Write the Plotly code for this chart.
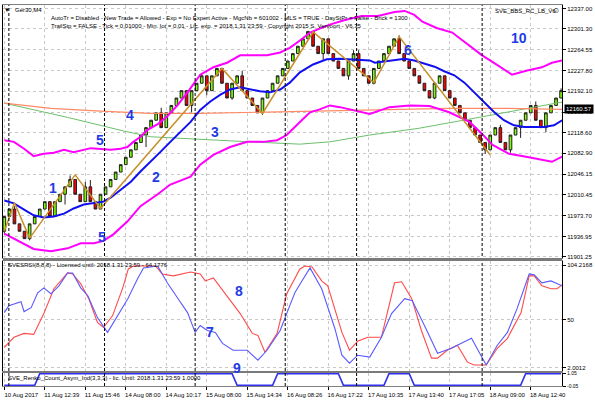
import plotly.graph_objects as go
from plotly.subplots import make_subplots

FONT = "Liberation Sans, Arial, sans-serif"
CANDLE_UP = "#7CFC00"
CANDLE_DOWN = "#FF0000"
CANDLE_EDGE = "#202020"
MA_BLUE = "#1010F0"
BAND_MAGENTA = "#FF00FF"
ZIGZAG_GOLD = "#C8902C"
CORAL = "#FF8A65"
SOFT_GREEN = "#6CBF6C"
RSI_BLUE = "#5A5AFF"
RSI_RED = "#FF4A4A"
LABEL_BLUE = "#1F3BE6"
GRID_GREY = "#C8C8C8"
FRAME_GREY = "#808080"

# renko bars (price)
opens = [11946, 11972, 11985, 11959, 11946, 11933, 11959, 11972, 11985, 11998,
         11972, 11998, 12011, 12024, 12037, 12011, 11998, 12024, 11998, 11985,
         12011, 12024, 12037, 12050, 12063, 12076, 12089, 12102, 12115, 12128,
         12141, 12154, 12128, 12154, 12167, 12180, 12193, 12167, 12193, 12206,
         12219, 12193, 12219, 12232, 12206, 12180, 12206, 12219, 12193, 12180,
         12167, 12154, 12180, 12193, 12206, 12219, 12232, 12245, 12258, 12271,
         12284, 12297, 12271, 12258, 12284, 12258, 12245, 12232, 12219, 12245,
         12258, 12232, 12219, 12206, 12232, 12245, 12258, 12271, 12284, 12258,
         12245, 12232, 12219, 12206, 12193, 12180, 12206, 12219, 12193, 12180,
         12167, 12154, 12141, 12128, 12115, 12102, 12089, 12115, 12128, 12102,
         12089, 12115, 12128, 12141, 12154, 12167, 12141, 12128, 12154, 12167,
         12180]
closes = [11972, 11985, 11959, 11946, 11933, 11959, 11972, 11985, 11998, 11972,
          11998, 12011, 12024, 12037, 12011, 11998, 12024, 11998, 11985, 12011,
          12024, 12037, 12050, 12063, 12076, 12089, 12102, 12115, 12128, 12141,
          12154, 12128, 12154, 12167, 12180, 12193, 12167, 12193, 12206, 12219,
          12193, 12219, 12232, 12206, 12180, 12206, 12219, 12193, 12180, 12167,
          12154, 12180, 12193, 12206, 12219, 12232, 12245, 12258, 12271, 12284,
          12297, 12271, 12258, 12284, 12258, 12245, 12232, 12219, 12245, 12258,
          12232, 12219, 12206, 12232, 12245, 12258, 12271, 12284, 12258, 12245,
          12232, 12219, 12206, 12193, 12180, 12206, 12219, 12193, 12180, 12167,
          12154, 12141, 12128, 12115, 12102, 12089, 12115, 12128, 12102, 12089,
          12115, 12128, 12141, 12154, 12167, 12141, 12128, 12154, 12167, 12180,
          12193]
highs = [11972, 11985, 11990, 11959, 11946, 11959, 11972, 11985, 11998, 11998,
         11998, 12011, 12024, 12044, 12037, 12011, 12033, 12036, 11998, 12011,
         12024, 12037, 12050, 12063, 12076, 12089, 12102, 12115, 12128, 12141,
         12154, 12163, 12154, 12167, 12180, 12193, 12193, 12193, 12206, 12223,
         12219, 12219, 12232, 12232, 12206, 12206, 12219, 12228, 12193, 12180,
         12167, 12180, 12193, 12206, 12219, 12232, 12245, 12258, 12271, 12284,
         12297, 12297, 12271, 12284, 12284, 12258, 12245, 12232, 12245, 12264,
         12264, 12232, 12219, 12232, 12245, 12258, 12271, 12284, 12290, 12258,
         12245, 12232, 12219, 12206, 12193, 12206, 12219, 12219, 12193, 12180,
         12167, 12154, 12141, 12128, 12115, 12102, 12115, 12128, 12133, 12102,
         12115, 12128, 12141, 12154, 12167, 12174, 12141, 12154, 12167, 12180,
         12197]
lows = [11942, 11972, 11959, 11946, 11933, 11930, 11959, 11972, 11985, 11972,
        11972, 11998, 11993, 12024, 12011, 11998, 11998, 11998, 11985, 11985,
        12011, 12024, 12037, 12050, 12063, 12076, 12089, 12102, 12094, 12128,
        12141, 12128, 12128, 12154, 12167, 12180, 12167, 12155, 12193, 12206,
        12185, 12193, 12219, 12206, 12180, 12177, 12206, 12193, 12180, 12167,
        12154, 12150, 12180, 12193, 12206, 12219, 12232, 12245, 12258, 12271,
        12284, 12271, 12258, 12247, 12258, 12245, 12232, 12219, 12212, 12245,
        12232, 12219, 12206, 12204, 12232, 12245, 12258, 12271, 12258, 12245,
        12232, 12219, 12206, 12193, 12180, 12178, 12206, 12193, 12180, 12167,
        12154, 12141, 12128, 12115, 12102, 12082, 12089, 12115, 12102, 12089,
        12084, 12115, 12110, 12141, 12154, 12141, 12128, 12120, 12154, 12167,
        12180]
bars = list(range(len(opens)))

# blue moving average
ma_x = [0, 1.9, 3.9, 5.8, 7.8, 9.8, 11.8, 13.7, 15.7, 17.7, 19.6, 21.0, 23.0,
        25.0, 26.9, 28.9, 30.8, 32.8, 34.8, 36.8, 38.7, 40.7, 42.7, 44.6, 46.6,
        48.6, 50.5, 52.5, 54.5, 56.4, 58.4, 61.0, 63.7, 66.3, 68.2, 70.2, 72.2,
        73.2, 75.1, 77.1, 79.1, 81.0, 83.0, 85.0, 86.9, 88.9, 90.9, 92.8, 94.8,
        96.8, 98.7, 100.7, 102.7, 104.7, 106.6, 108.6, 110.2]
ma_vals = [12000, 11995, 11984, 11974, 11970, 11972, 11977, 11986, 11993, 11995,
           11998, 12005, 12019, 12033, 12051, 12068, 12085, 12103, 12120, 12138,
           12159, 12174, 12186, 12195, 12199, 12195, 12192, 12190, 12195, 12207,
           12225, 12239, 12248, 12249, 12248, 12248, 12246, 12242, 12244, 12247,
           12249, 12246, 12241, 12235, 12227, 12220, 12207, 12190, 12173, 12155,
           12141, 12132, 12129, 12129, 12129, 12132, 12141]

# magenta bands
ub_x = [0, 1.9, 3.9, 5.8, 7.8, 9.8, 11.8, 13.7, 17.1, 19.0, 21.0, 23.0, 24.3,
        25.5, 26.9, 28.3, 30.3, 32.2, 34.2, 36.2, 38.7, 41.3, 44.0, 46.6, 49.1,
        51.9, 54.5, 56.4, 58.4, 60.4, 62.3, 64.3, 67.3, 70.6, 73.8, 77.1, 79.1,
        81.0, 82.6, 85.4, 88.5, 91.9, 94.4, 97.2, 100.3, 103.1, 106.2, 108.2, 110.2]
ub_vals = [12106, 12103, 12091, 12078, 12082, 12084, 12089, 12085, 12092, 12091,
           12089, 12091, 12094, 12103, 12112, 12124, 12134, 12148, 12167, 12190,
           12221, 12234, 12242, 12255, 12255, 12255, 12260, 12268, 12281, 12295,
           12302, 12309, 12317, 12324, 12324, 12331, 12333, 12326, 12314, 12303,
           12295, 12272, 12255, 12239, 12221, 12228, 12234, 12242, 12246]
lb_x = [0, 2.7, 5.8, 9.2, 12.5, 15.1, 17.7, 19.6, 21.6, 24.3, 26.9, 30.3, 32.8,
        36.8, 38.7, 41.3, 44.6, 48.0, 51.1, 53.9, 55.8, 58.4, 60.4, 62.3, 64.3,
        66.3, 68.2, 70.2, 72.2, 76.1, 80.1, 84.0, 87.9, 91.9, 94.4, 96.4, 99.7,
        103.1, 106.2, 108.2, 110.2]
lb_vals = [11942, 11929, 11915, 11911, 11916, 11925, 11925, 11929, 11941, 11963,
           11990, 12011, 12028, 12042, 12063, 12080, 12094, 12103, 12103, 12106,
           12115, 12138, 12155, 12160, 12167, 12164, 12160, 12157, 12152, 12164,
           12167, 12166, 12155, 12138, 12117, 12098, 12082, 12077, 12072, 12068,
           12077]

# slow averages
coral_x = [0, 9.2, 19.0, 28.9, 38.7, 48.6, 58.4, 68.2, 78.1, 87.9, 97.8, 110.2]
coral_vals = [12171, 12162, 12157, 12153, 12153, 12155, 12157, 12159, 12160,
              12162, 12162, 12160]
green_x = [0, 5.8, 12.5, 19.0, 23.6, 28.9, 36.8, 48.6, 58.4, 64.3, 72.2, 82.0,
           91.9, 101.7, 110.2]
green_vals = [12171, 12160, 12146, 12132, 12122, 12112, 12108, 12103, 12099,
              12103, 12115, 12127, 12143, 12159, 12173]

# zigzag
zz_x = [0, 2, 5, 14, 19, 43, 51, 61, 73, 78, 96]
zz_vals = [11946, 11996, 11934, 12045, 11986, 12232, 12153, 12296, 12207, 12288, 12080]

# SVESRSI
rsi_blue_x = [0, 0.9, 3.3, 3.9, 5.3, 6.6, 7.8, 9.2, 10.8, 12.5, 13.5, 15.1, 16.5,
              18.4, 20.4, 22.0, 24.4, 26.3, 27.5, 30.3, 32.2, 34.2, 36.2, 37.7,
              38.7, 40.1, 41.7, 43.1, 45.2, 48.0, 50.1, 51.9, 54.5, 56.4, 57.4,
              58.4, 60.4, 62.7, 65.3, 66.7, 68.2, 69.8, 72.2, 74.5, 76.5, 79.1,
              80.6, 83.0, 85.6, 88.3, 90.3, 92.3, 95.2, 97.4, 99.4, 101.3, 103.7,
              104.7, 106.2, 108.0, 110.2]
rsi_blue = [56.9, 63.8, 67.7, 57.9, 61.8, 76.6, 81.5, 75.6, 83.5, 96.3, 96.3,
            81.5, 73.7, 51.9, 37.2, 50.9, 70.7, 90.4, 101.3, 103.2, 86.5, 71.7,
            56.9, 37.2, 44.1, 39.1, 37.2, 26.3, 19.4, 19.4, 9.6, 19.4, 39.1, 63.8,
            76.6, 85.0, 101.3, 80.6, 41.1, 14.5, 6.6, 14.5, 12.6, 32.3, 55.9, 70.7,
            68.7, 44.1, 16.5, 21.4, 26.3, 31.3, 4.7, 24.4, 37.2, 60.8, 95.3, 94.4,
            86.5, 88.4, 83.5]
rsi_red_x = [0, 1.9, 3.9, 5.8, 7.8, 9.8, 12.5, 13.5, 15.1, 16.7, 18.4, 19.6, 21.4,
             23.4, 24.5, 25.5, 29.9, 31.2, 33.4, 36.8, 38.7, 39.7, 41.3, 44.0,
             46.6, 49.0, 50.1, 51.5, 53.9, 55.8, 58.4, 59.4, 60.8, 62.7, 63.9,
             66.7, 68.2, 69.8, 71.8, 74.5, 77.1, 78.5, 80.5, 82.4, 84.4, 85.6,
             87.5, 89.5, 91.5, 92.8, 95.2, 97.4, 99.4, 102.1, 103.7, 104.7, 106.2,
             108.0, 109.2, 110.2]
rsi_red = [22.4, 32.3, 36.2, 35.2, 55.9, 80.6, 96.3, 95.3, 85.5, 70.7, 47.0, 42.1,
           53.9, 81.5, 100.3, 103.2, 103.2, 95.3, 93.4, 97.3, 95.3, 88.4, 91.4,
           73.7, 55.9, 36.2, 34.2, 17.5, 36.2, 75.6, 100.3, 103.2, 102.2, 88.4,
           83.5, 37.2, 19.4, 28.3, 32.3, 32.3, 86.5, 87.5, 70.7, 39.1, 11.6, 11.6,
           19.4, 24.4, 7.6, 4.7, 4.7, 21.4, 31.3, 56.9, 93.4, 93.4, 83.5, 80.6,
           80.6, 84.5]

# SVE_Renko_Count_Asym_Ind
renko_count = [0, 0, 0, 0, 0, 0, 0, 1, 1, 1, 1, 1, 1, 1, 1, 1, 1, 1, 1, 1, 1, 1,
               1, 1, 1, 1, 1, 1, 1, 1, 1, 1, 1, 1, 1, 1, 1, 1, 1, 1, 1, 1, 1, 1,
               1, 1, 0, 0, 0, 0, 0, 0, 0, 0, 1, 1, 1, 1, 1, 1, 1, 1, 1, 1, 1, 1,
               1, 0, 0, 0, 0, 0, 0, 0, 0, 0, 1, 1, 1, 1, 1, 0, 0, 0, 0, 0, 0, 0,
               0, 0, 0, 0, 0, 0, 0, 0, 0, 0, 0, 0, 0, 0, 0, 1, 1, 1, 1, 1, 1, 1,
               1]

separators = [0.9, 19.8, 37.7, 55.5, 69.6, 94.4]
time_ticks = [0, 8, 16, 24, 32, 40, 48, 56, 64, 72, 80, 88, 96, 104]
time_labels = ["10 Aug 2017", "11 Aug 12:39", "11 Aug 15:46", "14 Aug 08:00",
               "14 Aug 10:17", "15 Aug 08:00", "15 Aug 14:34", "16 Aug 08:26",
               "16 Aug 17:22", "17 Aug 10:35", "17 Aug 13:40", "17 Aug 17:05",
               "18 Aug 09:00", "18 Aug 12:40"]
price_ticks = [12337.00, 12301.30, 12264.55, 12227.80, 12192.10, 12155.35,
               12118.60, 12082.90, 12046.15, 12010.45, 11973.70, 11936.95, 11901.25]
rsi_ticks = [104.2168, 50, 2.0012]
count_ticks = [1.05, -0.05]
bid_price = 12160.57

# figure is 595x400, plot area spans x 2..563 and y 2..386 px
def px(x, y):
    return (x - 2) / 561, (386 - y) / 384


fig = make_subplots(rows=3, cols=1, shared_xaxes=True, vertical_spacing=0)

fig.add_trace(go.Candlestick(x=bars, open=opens, high=highs, low=lows, close=closes,
                             increasing=dict(fillcolor=CANDLE_UP, line=dict(color=CANDLE_EDGE, width=1)),
                             decreasing=dict(fillcolor=CANDLE_DOWN, line=dict(color=CANDLE_EDGE, width=1)),
                             whiskerwidth=0, showlegend=False, hoverinfo="skip"),
              row=1, col=1)

main_lines = [
    (green_x, green_vals, SOFT_GREEN, 1),
    (coral_x, coral_vals, CORAL, 1.2),
    (ub_x, ub_vals, BAND_MAGENTA, 2),
    (lb_x, lb_vals, BAND_MAGENTA, 2),
    (ma_x, ma_vals, MA_BLUE, 2),
    (zz_x, zz_vals, ZIGZAG_GOLD, 1.5),
]
for xs, ys, color, width in main_lines:
    fig.add_trace(go.Scatter(x=xs, y=ys, mode="lines", line=dict(color=color, width=width),
                             showlegend=False, hoverinfo="skip"), row=1, col=1)

fig.add_trace(go.Scatter(x=rsi_red_x, y=rsi_red, mode="lines",
                         line=dict(color=RSI_RED, width=1.1), showlegend=False), row=2, col=1)
fig.add_trace(go.Scatter(x=rsi_blue_x, y=rsi_blue, mode="lines",
                         line=dict(color=RSI_BLUE, width=1.1), showlegend=False), row=2, col=1)
fig.add_trace(go.Scatter(x=bars, y=renko_count, mode="lines",
                         line=dict(color="#3030F0", width=1.6), showlegend=False), row=3, col=1)

tick_font = dict(family=FONT, size=6, color="#000000")
xcommon = dict(range=[-0.26, 110.18], showgrid=True, gridcolor=GRID_GREY, griddash="dot",
               gridwidth=1, tickvals=time_ticks, showline=True, mirror=True,
               linecolor=FRAME_GREY, zeroline=False)
fig.update_layout(
    xaxis=dict(xcommon, rangeslider=dict(visible=False), showticklabels=False),
    xaxis2=dict(xcommon, showticklabels=False),
    xaxis3=dict(xcommon, ticktext=time_labels, showticklabels=True, ticks="outside",
                ticklen=3, tickcolor="#000000", tickfont=tick_font, ticklabelshift=17),
    yaxis=dict(domain=[0.3359, 1], range=[11899.0, 12343.4], side="right",
               tickvals=price_ticks, ticktext=["%.2f" % v for v in price_ticks],
               tickfont=tick_font, ticks="outside", ticklen=3, tickcolor="#000000",
               showgrid=True, gridcolor=GRID_GREY, griddash="dot", zeroline=False,
               showline=True, mirror=True, linecolor="#000000"),
    yaxis2=dict(domain=[0.0391, 0.3281], range=[-1.3, 108.2], side="right",
                tickvals=rsi_ticks, ticktext=["104.2168", "50", "2.0012"],
                tickfont=tick_font, ticks="outside", ticklen=3, tickcolor="#000000",
                showgrid=True, gridcolor=GRID_GREY, griddash="dot", zeroline=False,
                showline=True, mirror=True, linecolor="#000000"),
    yaxis3=dict(domain=[0, 0.0339], range=[-0.05, 1.05], side="right",
                tickvals=count_ticks, ticktext=["1.05", "-0.05"],
                tickfont=dict(family=FONT, size=5, color="#000000"), ticks="outside",
                ticklen=3, tickcolor="#000000", showgrid=False, zeroline=False,
                showline=True, mirror=True, linecolor="#000000"),
    plot_bgcolor="#FFFFFF",
    paper_bgcolor="#FFFFFF",
    width=595, height=400,
    margin=dict(l=2, r=32, t=2, b=14),
    font=dict(family=FONT, size=6, color="#000000"),
    boxgap=0.25,
    showlegend=False,
)

shapes = []
for s in separators:
    shapes.append(dict(type="line", xref="x", yref="paper", x0=s, x1=s, y0=0, y1=1,
                       line=dict(color="#000000", width=1, dash="3px,2px")))
for y0, y1 in [(0.3281, 0.3359), (0.0339, 0.0391)]:
    shapes.append(dict(type="rect", xref="paper", yref="paper", x0=0, x1=1, y0=y0, y1=y1,
                       fillcolor="#7A7A7A", line=dict(width=0)))
fig.update_layout(shapes=shapes)

notes = [
    ("▼", 6, 7, "center", 6),
    ("Ger30,M4", 12, 7, "left", 6),
    ("AutoTr = Disabled - New Trade = Allowed - Exp = No Expert Active - MgcNb = 601002 - "
     "MLS = TRUE - DayStPr = False - Brick = 1300", 48, 15.5, "left", 6),
    ("TrailStp = FALSE - Tick = 0.01000 - Min. lot = 0.01 - Lic. exp. = 2018.1.31 23:59 - "
     "Copyright 2015 S. Vervoort - V6.35", 48, 23.5, "left", 6),
    ("SVE_BBS_RC_LB_V6", 494, 8, "left", 6),
    ("☺", 557, 8, "center", 8),
    ("SVESRSI(8,8,8) - Licensed until: 2018.1.31 23:59 - 64.1776", 5, 264.5, "left", 6),
    ("SVE_Renko_Count_Asym_Ind(3,3,3) - lic. Until: 2018.1.31 23:59 1.0000", 5, 378, "left", 6),
]
for text, x, y, anchor, size in notes:
    xp, yp = px(x, y)
    fig.add_annotation(text=text, x=xp, y=yp, xref="paper", yref="paper", xanchor=anchor,
                       yanchor="middle", showarrow=False, font=dict(family=FONT, size=size,
                                                                     color="#000000"))

numbers = [("1", 46, 186), ("2", 150, 175), ("3", 215, 130), ("4", 123, 103),
           ("5", 93, 138), ("5", 95, 236), ("6", 414, 37), ("7", 210, 342),
           ("8", 239, 300), ("9", 237, 378), ("10", 530, 25)]
for text, x, y in numbers:
    xp, yp = px(x, y)
    fig.add_annotation(text="<b>%s</b>" % text, x=xp, y=yp, xref="paper", yref="paper",
                       showarrow=False, font=dict(family=FONT, size=14, color=LABEL_BLUE))

fig.add_annotation(text="%.2f" % bid_price, x=1, y=bid_price, xref="paper", yref="y",
                   xanchor="left", xshift=2, showarrow=False, bgcolor="#000000",
                   borderpad=1, font=dict(family=FONT, size=6, color="#FFFFFF"))

# the page body has a default margin; drop it so the figure sits at the window corner
fig.write_html("out.html", config={"displayModeBar": False},
               post_script="document.body.style.margin='0';")
